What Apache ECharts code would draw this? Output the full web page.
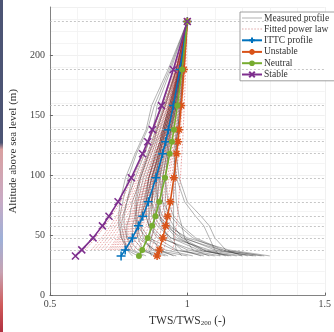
<!DOCTYPE html>
<html><head><meta charset="utf-8">
<script src="https://cdn.jsdelivr.net/npm/echarts@6/dist/echarts.min.js"></script>
<style>html,body{margin:0;padding:0;background:#fff}#c{width:334px;height:332px}</style>
</head><body><div id="c"></div>
<script>
// Heights (m) of the measurement levels
var heights = [33, 38, 48, 58, 66, 78, 98, 118, 128, 138, 158, 188, 228];
var fitHeights = [38, 48, 58, 66, 78, 98, 118, 128, 138, 158, 188, 228];
var gridHeights = [38, 48, 58, 66, 78, 98, 118, 128, 138, 158, 188, 228];

// Reference profiles (TWS/TWS200)
var ittc     = [0.759, 0.774, 0.800, 0.822, 0.838, 0.858, 0.886, 0.910, 0.921, 0.931, 0.949, 0.973, 1];
var unstable = [0.890, 0.898, 0.911, 0.921, 0.928, 0.938, 0.951, 0.961, 0.966, 0.970, 0.978, 0.988, 1];
var neutral  = [0.824, 0.836, 0.856, 0.872, 0.884, 0.898, 0.919, 0.936, 0.944, 0.951, 0.964, 0.981, 1];
var stable   = [0.593, 0.616, 0.657, 0.691, 0.715, 0.748, 0.796, 0.837, 0.856, 0.873, 0.906, 0.949, 1];

// Measured profiles (values at heights[])
var measured = [
  [0.80, 0.78, 0.77, 0.76, 0.765, 0.78, 0.80, 0.84, 0.86, 0.875, 0.89, 0.94, 1],
  [0.85, 0.80, 0.78, 0.78, 0.79, 0.80, 0.83, 0.86, 0.88, 0.89, 0.92, 0.96, 1],
  [0.92, 0.84, 0.80, 0.80, 0.81, 0.82, 0.84, 0.87, 0.885, 0.90, 0.93, 0.96, 1],
  [1.00, 0.88, 0.82, 0.81, 0.82, 0.83, 0.85, 0.88, 0.89, 0.91, 0.935, 0.965, 1],
  [1.10, 0.95, 0.86, 0.83, 0.83, 0.84, 0.86, 0.89, 0.90, 0.915, 0.94, 0.97, 1],
  [1.18, 1.02, 0.90, 0.86, 0.85, 0.85, 0.87, 0.90, 0.91, 0.92, 0.945, 0.97, 1],
  [1.25, 1.08, 0.94, 0.89, 0.87, 0.87, 0.88, 0.905, 0.915, 0.925, 0.95, 0.975, 1],
  [1.30, 1.15, 1.00, 0.93, 0.90, 0.88, 0.89, 0.91, 0.92, 0.93, 0.95, 0.975, 1],
  [1.22, 1.12, 1.02, 0.97, 0.94, 0.91, 0.90, 0.92, 0.925, 0.935, 0.955, 0.978, 1],
  [1.15, 1.06, 0.98, 0.95, 0.93, 0.92, 0.92, 0.93, 0.935, 0.94, 0.96, 0.98, 1],
  [1.05, 0.98, 0.93, 0.91, 0.90, 0.90, 0.91, 0.925, 0.93, 0.94, 0.955, 0.978, 1],
  [0.95, 0.90, 0.87, 0.86, 0.86, 0.87, 0.89, 0.91, 0.92, 0.93, 0.95, 0.975, 1],
  [0.88, 0.84, 0.82, 0.82, 0.83, 0.85, 0.87, 0.895, 0.905, 0.915, 0.94, 0.97, 1],
  [1.12, 1.10, 1.08, 1.06, 1.03, 0.99, 0.96, 0.95, 0.955, 0.96, 0.97, 0.985, 1],
  [1.20, 1.14, 1.10, 1.08, 1.05, 1.00, 0.97, 0.96, 0.96, 0.965, 0.975, 0.988, 1],
  [0.98, 0.96, 0.95, 0.95, 0.95, 0.95, 0.95, 0.955, 0.96, 0.965, 0.975, 0.988, 1],
  [1.08, 1.02, 0.99, 0.98, 0.97, 0.96, 0.955, 0.96, 0.96, 0.965, 0.975, 0.985, 1],
  [0.84, 0.79, 0.76, 0.75, 0.75, 0.755, 0.775, 0.81, 0.83, 0.85, 0.87, 0.93, 1],
  [0.90, 0.82, 0.78, 0.77, 0.77, 0.78, 0.81, 0.845, 0.86, 0.875, 0.91, 0.95, 1],
  [1.02, 0.92, 0.85, 0.82, 0.815, 0.815, 0.83, 0.86, 0.875, 0.89, 0.92, 0.96, 1],
  [1.12, 1.00, 0.91, 0.87, 0.86, 0.86, 0.87, 0.895, 0.905, 0.915, 0.94, 0.97, 1],
  [1.20, 1.06, 0.96, 0.92, 0.90, 0.89, 0.895, 0.91, 0.92, 0.93, 0.95, 0.975, 1],
  [0.87, 0.86, 0.87, 0.88, 0.88, 0.89, 0.90, 0.915, 0.925, 0.935, 0.955, 0.978, 1],
  [1.28, 1.12, 0.98, 0.92, 0.89, 0.87, 0.875, 0.895, 0.905, 0.92, 0.945, 0.972, 1],
  [0.96, 0.88, 0.83, 0.815, 0.81, 0.81, 0.825, 0.855, 0.87, 0.885, 0.915, 0.96, 1],
  [1.06, 0.96, 0.89, 0.86, 0.85, 0.85, 0.86, 0.885, 0.90, 0.91, 0.935, 0.97, 1],
  [0.82, 0.78, 0.76, 0.755, 0.755, 0.765, 0.785, 0.815, 0.835, 0.855, 0.88, 0.935, 1],
  [1.14, 1.05, 0.97, 0.93, 0.92, 0.91, 0.91, 0.925, 0.93, 0.94, 0.96, 0.98, 1],
  [1.24, 1.10, 0.99, 0.94, 0.91, 0.89, 0.885, 0.90, 0.91, 0.925, 0.948, 0.975, 1],
  [1.16, 1.04, 0.94, 0.90, 0.88, 0.87, 0.88, 0.90, 0.91, 0.92, 0.945, 0.972, 1],
  [0.93, 0.87, 0.84, 0.83, 0.835, 0.845, 0.86, 0.885, 0.90, 0.91, 0.935, 0.968, 1],
  [1.27, 1.13, 1.03, 0.98, 0.95, 0.93, 0.92, 0.93, 0.935, 0.945, 0.96, 0.98, 1]
];

// Fitted power-law profiles (values at fitHeights[])
var fitted = [
  [0.628, 0.667, 0.700, 0.724, 0.757, 0.803, 0.843, 0.861, 0.878, 0.909, 0.951, 1],
  [0.651, 0.688, 0.720, 0.742, 0.773, 0.816, 0.854, 0.871, 0.887, 0.916, 0.955, 1],
  [0.662, 0.699, 0.730, 0.751, 0.781, 0.823, 0.860, 0.876, 0.891, 0.919, 0.957, 1],
  [0.674, 0.710, 0.740, 0.761, 0.790, 0.830, 0.865, 0.881, 0.896, 0.922, 0.959, 1],
  [0.686, 0.721, 0.750, 0.770, 0.798, 0.837, 0.870, 0.886, 0.900, 0.926, 0.960, 1],
  [0.699, 0.732, 0.760, 0.780, 0.807, 0.845, 0.876, 0.891, 0.905, 0.930, 0.962, 1],
  [0.712, 0.744, 0.771, 0.790, 0.815, 0.852, 0.882, 0.896, 0.909, 0.932, 0.964, 1],
  [0.718, 0.750, 0.777, 0.795, 0.820, 0.856, 0.885, 0.899, 0.912, 0.934, 0.965, 1],
  [0.724, 0.756, 0.782, 0.800, 0.824, 0.859, 0.888, 0.901, 0.914, 0.936, 0.966, 1],
  [0.731, 0.762, 0.787, 0.805, 0.829, 0.863, 0.891, 0.904, 0.916, 0.938, 0.967, 1],
  [0.737, 0.767, 0.792, 0.810, 0.834, 0.867, 0.894, 0.907, 0.918, 0.940, 0.968, 1],
  [0.744, 0.774, 0.798, 0.815, 0.838, 0.871, 0.897, 0.910, 0.921, 0.942, 0.969, 1],
  [0.751, 0.780, 0.803, 0.820, 0.842, 0.874, 0.900, 0.912, 0.923, 0.943, 0.970, 1],
  [0.758, 0.786, 0.809, 0.825, 0.847, 0.878, 0.903, 0.915, 0.926, 0.945, 0.971, 1],
  [0.764, 0.791, 0.815, 0.830, 0.851, 0.881, 0.906, 0.917, 0.928, 0.946, 0.971, 1],
  [0.771, 0.798, 0.820, 0.835, 0.856, 0.885, 0.909, 0.920, 0.930, 0.948, 0.972, 1],
  [0.778, 0.804, 0.825, 0.840, 0.861, 0.889, 0.912, 0.922, 0.932, 0.950, 0.973, 1],
  [0.785, 0.810, 0.831, 0.846, 0.866, 0.893, 0.915, 0.925, 0.935, 0.952, 0.974, 1],
  [0.792, 0.816, 0.837, 0.851, 0.870, 0.896, 0.918, 0.928, 0.937, 0.953, 0.975, 1],
  [0.807, 0.829, 0.849, 0.862, 0.879, 0.904, 0.924, 0.933, 0.942, 0.957, 0.977, 1],
  [0.821, 0.843, 0.860, 0.873, 0.889, 0.911, 0.931, 0.939, 0.946, 0.961, 0.979, 1],
  [0.836, 0.856, 0.872, 0.883, 0.898, 0.919, 0.936, 0.944, 0.951, 0.964, 0.981, 1],
  [0.851, 0.869, 0.884, 0.894, 0.908, 0.927, 0.943, 0.949, 0.956, 0.968, 0.983, 1],
  [0.867, 0.883, 0.896, 0.906, 0.918, 0.934, 0.948, 0.955, 0.961, 0.971, 0.985, 1],
  [0.882, 0.897, 0.908, 0.917, 0.928, 0.943, 0.955, 0.961, 0.966, 0.974, 0.986, 1],
  [0.914, 0.925, 0.934, 0.940, 0.947, 0.959, 0.968, 0.971, 0.975, 0.982, 0.990, 1],
  [0.947, 0.954, 0.960, 0.964, 0.968, 0.975, 0.980, 0.983, 0.985, 0.989, 0.994, 1]
];

var xTicks = [0.5, 1, 1.5];
var yTicks = [0, 50, 100, 150, 200];

var FONT = '"Liberation Serif", "DejaVu Serif", serif';
function pts(vals, hs) { return hs.map(function (h, i) { return [vals[i], h]; }); }

var series = [];
measured.forEach(function (m, k) {
  series.push({
    name: 'Measured profile', type: 'line', data: pts(m, heights),
    symbol: 'none', silent: true, z: 1,
    lineStyle: { color: 'rgba(25,25,25,0.55)', width: 0.6 },
    itemStyle: { color: '#bbb' },
    markLine: k === 0 ? {
      silent: true, symbol: 'none', label: { show: false },
      lineStyle: { color: '#b8b8b8', type: [2, 2], width: 0.8 },
      data: gridHeights.map(function (h) { return { yAxis: h }; })
    } : undefined
  });
});
fitted.forEach(function (f) {
  series.push({
    name: 'Fitted power law', type: 'line', data: pts(f, fitHeights),
    symbol: 'none', silent: true, z: 2,
    lineStyle: { color: 'rgba(205,45,45,0.65)', width: 0.7, type: [1.5, 1.5] },
    itemStyle: { color: 'rgba(205,50,50,0.4)' }
  });
});
var PLUS = 'path://M5,0L5,10M0,5L10,5';
var STAR = 'path://M5,0L5,10M0,5L10,5M1.5,1.5L8.5,8.5M8.5,1.5L1.5,8.5';
var CROSS = 'path://M0,0L10,10M10,0L0,10';
function named(name, vals, color, symbol, size) {
  return {
    name: name, type: 'line', data: pts(vals, heights), z: 5,
    symbol: symbol, symbolSize: size, showAllSymbol: true,
    lineStyle: { color: color, width: 1.6 },
    itemStyle: { color: symbol === 'circle' ? color : 'none', borderColor: color, borderWidth: symbol === 'circle' ? 0 : 1.5 }
  };
}
series.push(named('ITTC profile', ittc, '#0072BD', PLUS, 9));
series.push(named('Unstable', unstable, '#D95319', STAR, 8));
series.push(named('Neutral', neutral, '#77AC30', 'circle', 6));
series.push(named('Stable', stable, '#7E2F8E', CROSS, 7));

var chart = echarts.init(document.getElementById('c'), null, { renderer: 'canvas' });
chart.setOption({
  animation: false,
  backgroundColor: '#fff',
  grid: { left: 45, right: -1, top: 7, bottom: 29, containLabel: false },
  xAxis: {
    type: 'value', min: 0.5, max: 1.5, interval: 0.5,
    name: 'TWS/TWS{s|200} (-)', nameLocation: 'middle', nameGap: 17,
    nameTextStyle: { fontFamily: FONT, fontSize: 11.5, color: '#333', rich: { s: { fontFamily: FONT, fontSize: 7, color: '#333', verticalAlign: 'bottom', padding: [6, 0, 0, 0] } } },
    axisLine: { show: true, lineStyle: { color: '#666', width: 0.8 } },
    axisTick: { show: true, inside: true, length: 3, lineStyle: { color: '#666' } },
    minorTick: { show: false },
    axisLabel: { fontFamily: FONT, fontSize: 10, color: '#444', margin: 4, formatter: function (v) { return xTicks.indexOf(v) >= 0 ? String(v) : ''; } },
    splitLine: { show: true, lineStyle: { color: '#ececec', width: 0.8 } },
    minorSplitLine: { show: true, lineStyle: { color: '#f1f1f1', width: 0.8 } }
  },
  yAxis: {
    type: 'value', min: 0, max: 240, interval: 50,
    name: 'Altitude above sea level (m)', nameLocation: 'middle', nameGap: 29,
    nameTextStyle: { fontFamily: FONT, fontSize: 11, color: '#333' },
    axisLine: { show: true, lineStyle: { color: '#666', width: 0.8 } },
    axisTick: { show: true, inside: true, length: 3, lineStyle: { color: '#666' } },
    axisLabel: { fontFamily: FONT, fontSize: 10, color: '#444', margin: 5, showMaxLabel: false, formatter: function (v) { return yTicks.indexOf(v) >= 0 ? String(v) : ''; } },
    splitLine: { show: true, lineStyle: { color: '#ececec', width: 0.8 } },
    minorTick: { show: false, splitNumber: 5 },
    minorSplitLine: { show: true, lineStyle: { color: '#f1f1f1', width: 0.8 } }
  },
  legend: {
    orient: 'vertical', left: 240, top: 12,
    data: [
      { name: 'Measured profile', icon: 'path://M0,0h20v1h-20z', itemStyle: { color: '#b0b0b0' } },
      { name: 'Fitted power law', icon: 'path://M0,0h1.5v1h-1.5zM3,0h1.5v1h-1.5zM6,0h1.5v1h-1.5zM9,0h1.5v1h-1.5zM12,0h1.5v1h-1.5zM15,0h1.5v1h-1.5zM18,0h1.5v1h-1.5z', itemStyle: { color: '#e0a8a8' } },
      'ITTC profile', 'Unstable', 'Neutral', 'Stable'],
    itemWidth: 20, itemHeight: 7, itemGap: 1,
    textStyle: { fontFamily: FONT, fontSize: 9.5, lineHeight: 10, color: '#333', padding: [0, 0, 0, -3] },
    backgroundColor: '#fff', borderColor: '#888', borderWidth: 0.8,
    padding: [1, 30, 1, 1],
    selectedMode: false
  },
  graphic: [{
    type: 'rect', left: 0, top: 0, shape: { width: 3, height: 332 }, silent: true, z: 100,
    style: { fill: new echarts.graphic.LinearGradient(0, 0, 0, 1, [
      { offset: 0, color: '#4c5474' }, { offset: 0.43, color: '#4c5474' },
      { offset: 0.45, color: '#d9a0a0' }, { offset: 0.6, color: '#c9aac4' },
      { offset: 0.72, color: '#9eb0d8' }, { offset: 0.82, color: '#c7a2b2' },
      { offset: 0.92, color: '#cf5a5a' }, { offset: 1, color: '#b03040' }]) }
  }],
  series: series
});
</script></body></html>
